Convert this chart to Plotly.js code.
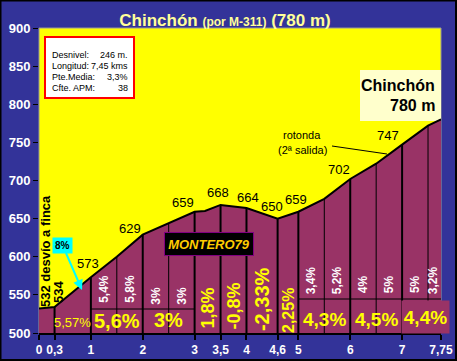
<!DOCTYPE html>
<html><head><meta charset="utf-8">
<script src="https://cdn.plot.ly/plotly-3.0.1.min.js"></script>
<style>html,body{margin:0;padding:0;background:#333399;} #chart{width:457px;height:361px;}</style>
</head><body><div id="chart"></div>
<script>
// ---- data ----
const kmPts   = [0, 0.3, 1, 1.5, 2, 2.5, 3, 3.2, 3.5, 4, 4.6, 5, 5.5, 6, 6.5, 7, 7.5, 7.75];
const elevPts = [532, 534, 573, 600, 629, 644, 659, 660, 668, 664, 650, 659, 676, 702, 722, 747, 772, 780];
const dividerKm = [0.3, 1, 1.5, 2, 2.5, 3, 3.5, 4, 4.6, 5, 5.5, 6, 6.5, 7, 7.5];
const thinDividerKm = [1.5, 2.5, 5.5, 6.5, 7.5];
const tickKm   = [0, 0.3, 1, 2, 3, 3.5, 4, 4.6, 5, 6, 7, 7.75];
const tickText = ['0', '0,3', '1', '2', '3', '3,5', '4', '4,6', '5', '6', '7', '7,75'];
const yTicks   = [500, 550, 600, 650, 700, 750, 800, 850, 900];
const halfGradeText = ['5,4%', '5,8%', '3%', '3%', '3,4%', '5,2%', '4%', '5%', '5%', '3,2%'];
const halfGradeKm   = [1.25, 1.75, 2.25, 2.75, 5.25, 5.75, 6.25, 6.75, 7.25, 7.6];
const kmGradeText = ['5,57%', '5,6%', '3%', '1,8%', '-0,8%', '-2,33%', '2,25%', '4,3%', '4,5%', '4,4%'];
const kmGradeKm   = [0.65, 1.5, 2.5, 3.25, 3.75, 4.3, 4.8, 5.5, 6.5, 7.46];
const elevLabelText = ['573', '629', '659', '668', '664', '650', '659', '702', '747'];
const infoLabels = ['Desnivel:', 'Longitud:', 'Pte.Media:', 'Cfte. APM:'];
const infoValues = ['246 m.', '7,45 kms', '3,3%', '38'];

// ---- geometry helpers (pixel -> axis/paper) ----
const L = 39, R = 441, T = 28, B = 333;
const X0 = 0, X1 = 7.75, Y0 = 500, Y1 = 900;
const px2x = p => X0 + (p - L) / (R - L) * (X1 - X0);
const py2y = p => Y0 + (B - p) / (B - T) * (Y1 - Y0);
const ppx = p => (p - L) / (R - L);
const ppy = p => (B - p) / (B - T);
const elevAt = k => elevPts[kmPts.indexOf(k)];

const FONT = 'Liberation Sans, Arial, sans-serif';

const shapes = [];
// outer frame
shapes.push({type:'rect', xref:'paper', yref:'paper', x0:ppx(0.5), x1:ppx(456), y0:ppy(0.5), y1:ppy(360), line:{color:'#000', width:2}, layer:'above'});
// plot border
shapes.push({type:'rect', xref:'paper', yref:'paper', x0:0, x1:1, y0:0, y1:1, line:{color:'#999999', width:1}, layer:'below'});
// dividers
dividerKm.forEach(k => {
  const thin = thinDividerKm.includes(k);
  shapes.push({type:'line', xref:'x', yref:'y', x0:k, x1:k, y0:500, y1:elevAt(k), line:{color:'#000', width: thin ? 1 : 2}, layer:'above'});
});
// gradient box lines
shapes.push({type:'line', xref:'x', yref:'y', x0:1, x1:3, y0:py2y(309), y1:py2y(309), line:{color:'#000', width:1}});
shapes.push({type:'line', xref:'x', yref:'y', x0:5, x1:7.75, y0:py2y(299), y1:py2y(299), line:{color:'#000', width:1}});
// info box
shapes.push({type:'rect', xref:'paper', yref:'paper', x0:ppx(45), x1:ppx(134), y0:ppy(37), y1:ppy(98), fillcolor:'#ffffff', line:{color:'#ff0000', width:2}, layer:'above'});
// rotonda leader line
shapes.push({type:'line', xref:'x', yref:'y', x0:px2x(332), x1:px2x(387), y0:py2y(146), y1:py2y(154), line:{color:'#000', width:1}, layer:'above'});
// Chinchón box
shapes.push({type:'rect', xref:'x', yref:'y', x0:px2x(360), x1:px2x(441), y0:py2y(70), y1:py2y(121), fillcolor:'#ffffcc', line:{width:0}, layer:'below'});

const ann = [];
// half-km grades (white, rotated)
const halfY = [289, 289, 296, 296, 280, 280, 284, 284, 284, 280];
halfGradeText.forEach((t, i) => ann.push({x: halfGradeKm[i], y: py2y(halfY[i]), xref:'x', yref:'y', text:'<b>' + t + '</b>', textangle:-90, showarrow:false, font:{family:FONT, size:12, color:'#ffffff'}}));
// km grades (yellow)
const kmY = [322, 321, 320, 308, 306, 299, 310, 319, 319, 318];
const kmRot = [0, 0, 0, -90, -90, -90, -90, 0, 0, 0];
const kmSize = [13, 20, 20, 18, 18, 20, 16, 19, 19, 19];
kmGradeText.forEach((t, i) => {
  const a = {x: kmGradeKm[i], y: py2y(kmY[i]), xref:'x', yref:'y', text: i === 0 ? t : '<b>' + t + '</b>', textangle:kmRot[i], showarrow:false, font:{family:FONT, size:kmSize[i], color:'#ffff00'}};
  if (i === kmGradeText.length - 1) { a.bgcolor = '#993366'; a.width = 45; a.height = 30; a.y = py2y(317); a.x = px2x(425.5); }
  ann.push(a);
});
// elevation labels
const elevPos = [[88,263],[130,228],[183,202],[218,192],[248,197],[272,206],[296,199],[339,169],[388,135]];
elevLabelText.forEach((t, i) => ann.push({x: px2x(elevPos[i][0]), y: py2y(elevPos[i][1]), xref:'x', yref:'y', text:t, showarrow:false, font:{family:FONT, size:13, color:'#000'}}));
// start labels
ann.push({x: px2x(45), y: py2y(251), xref:'x', yref:'y', text:'<b>532 desvío a finca</b>', textangle:-90, showarrow:false, font:{family:FONT, size:13, color:'#000'}});
ann.push({x: px2x(58), y: py2y(292), xref:'x', yref:'y', text:'<b>534</b>', textangle:-90, showarrow:false, font:{family:FONT, size:13, color:'#000'}});
// rotonda
ann.push({x: px2x(302), y: py2y(135), xref:'x', yref:'y', text:'rotonda', showarrow:false, font:{family:FONT, size:11, color:'#000'}});
ann.push({x: px2x(302), y: py2y(150), xref:'x', yref:'y', text:'(2ª salida)', showarrow:false, font:{family:FONT, size:11, color:'#000'}});
// Chinchón 780 m
ann.push({x: px2x(437), y: py2y(85), xref:'x', yref:'y', xanchor:'right', text:'<b>Chinchón</b>', showarrow:false, font:{family:FONT, size:16, color:'#000'}});
ann.push({x: px2x(437), y: py2y(105), xref:'x', yref:'y', xanchor:'right', text:'<b>780 m</b>', showarrow:false, font:{family:FONT, size:16, color:'#000'}});
// MONTERO79
ann.push({x: px2x(208.5), y: py2y(244), xref:'x', yref:'y', text:'<b><i>MONTERO79</i></b>', showarrow:false, width:86, height:20, bgcolor:'#000000', bordercolor:'#800080', borderwidth:1, borderpad:1, font:{family:FONT, size:13, color:'#ffcc00'}});
// 8% arrow
ann.push({x: px2x(82), y: py2y(290), xref:'x', yref:'y', ax: px2x(62.5), ay: py2y(245), axref:'x', ayref:'y', text:'<b>8%</b>', showarrow:true, arrowhead:2, arrowsize:1, arrowwidth:2, arrowcolor:'#00ffff', bgcolor:'#00ffff', borderpad:2, font:{family:FONT, size:10, color:'#000'}});
// info box text
const infoY = [48, 59, 70, 81];
infoLabels.forEach((t, i) => {
  ann.push({xref:'paper', yref:'paper', x: ppx(50), y: ppy(infoY[i]), xanchor:'left', text:t, showarrow:false, font:{family:FONT, size:9, color:'#000'}});
  ann.push({xref:'paper', yref:'paper', x: ppx(130), y: ppy(infoY[i]), xanchor:'right', text:infoValues[i], showarrow:false, font:{family:FONT, size:9, color:'#000'}});
});

const trace = {x: kmPts, y: elevPts, type:'scatter', mode:'lines', fill:'tozeroy', fillcolor:'#993366', line:{color:'#000', width:2}, hoverinfo:'skip'};

const layout = {
  width: 457, height: 361,
  margin: {l: L, r: 457 - R, t: T, b: 361 - B, pad: 0},
  paper_bgcolor: '#333399', plot_bgcolor: '#ffff00',
  showlegend: false,
  title: {text: 'Chinchón <span style="font-size:12px">(por M-311)</span> (780 m)', xref:'container', yref:'container', x: 225/457, y: 1 - 20/361, xanchor:'center', yanchor:'middle', font:{family:FONT, size:17, color:'#ffff99', weight:'bold'}},
  xaxis: {range:[X0, X1], tickmode:'array', tickvals: tickKm, ticktext: tickText, showgrid:false, zeroline:false, ticks:'outside', ticklen:5, tickwidth:2, tickcolor:'#000', showline:true, linecolor:'#000', linewidth:2, tickfont:{family:FONT, size:12, color:'#ffffff', weight:'bold'}, fixedrange:true},
  yaxis: {range:[Y0, Y1], tickmode:'array', tickvals: yTicks, showgrid:false, zeroline:false, ticks:'outside', ticklen:5, tickwidth:1, tickcolor:'#000', showline:false, tickfont:{family:FONT, size:13, color:'#ffffff', weight:'bold'}, fixedrange:true},
  shapes: shapes, annotations: ann
};
Plotly.newPlot('chart', [trace], layout, {displayModeBar:false, staticPlot:true});
</script></body></html>
